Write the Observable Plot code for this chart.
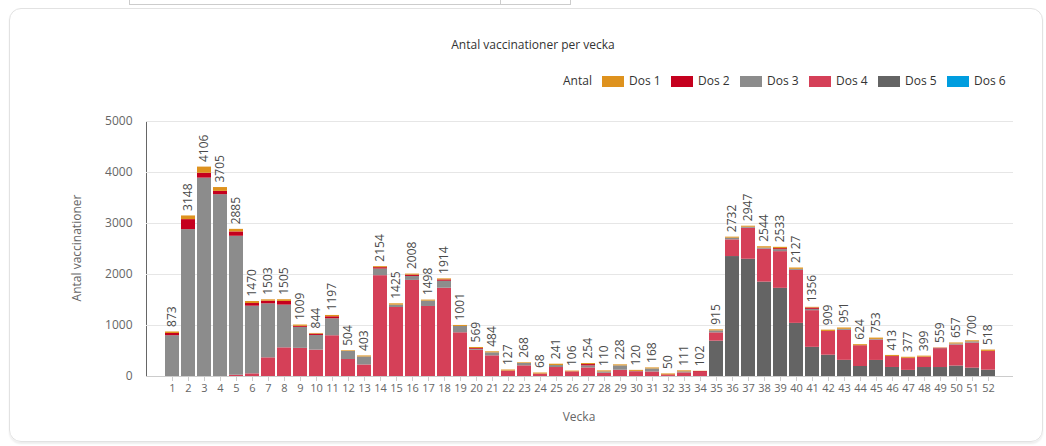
<!DOCTYPE html>
<html><head><meta charset="utf-8">
<script src="https://cdn.jsdelivr.net/npm/d3@7"></script>
<script src="https://cdn.jsdelivr.net/npm/@observablehq/plot@0.6"></script>
<style>
body{margin:0;background:#fff;font-family:"Open Sans",sans-serif;}
#wrap{position:relative;width:1046px;height:446px;overflow:hidden;}
#topbox{position:absolute;left:129px;top:-10px;width:440px;height:13px;border:1px solid #ccc;}
#topdiv{position:absolute;left:500px;top:-10px;width:0;height:14px;border-left:1px solid #ccc;}
#card{position:absolute;left:9px;top:8px;width:1032px;height:432px;border:1px solid #e2e2e2;border-radius:12px;box-shadow:0 2px 2px rgba(0,0,0,0.07);}
#title{position:absolute;left:0;width:1066px;top:36px;text-align:center;font-size:12px;color:#333;}
.lg{position:absolute;font-size:12px;color:#333;line-height:16px;}
.sw{position:absolute;width:22px;height:11px;}
#ytitle{position:absolute;left:76px;top:248px;transform:translate(-50%,-50%) rotate(-90deg);font-size:12px;color:#666;white-space:nowrap;}
#xtitle{position:absolute;left:579px;top:416px;transform:translate(-50%,-50%);font-size:12px;color:#666;}
#chart{position:absolute;left:0;top:100px;}
#chart svg g[aria-label^="y-axis"] path, #chart svg g[aria-label^="y-axis"] line{stroke:#ccc;}
#chart svg g[aria-label^="x-axis"] path, #chart svg g[aria-label^="x-axis"] line{stroke:#ccc;}
</style>
</head><body>
<div id="wrap">
  <div id="topbox"></div><div id="topdiv"></div>
  <div id="card"></div>
  <div id="title">Antal vaccinationer per vecka</div>
  <div id="legend"></div>
  <div id="ytitle">Antal vaccinationer</div>
  <div id="xtitle">Vecka</div>
  <div id="chart"></div>
</div>
<script>
const weeks = d3.range(1, 53);
const doses = ["Dos 1", "Dos 2", "Dos 3", "Dos 4", "Dos 5", "Dos 6"];
const colors = ["#de921e", "#c5001e", "#8c8c8c", "#d54058", "#646464", "#009ddf"];
const yTicks = [0, 1000, 2000, 3000, 4000, 5000];

const dos1 = [30,72,121,75,50,39,26,33,25,13,26,13,20,20,26,20,20,20,20,20,20,20,13,20,26,14,20,20,20,20,20,20,20,5,20,20,20,26,26,26,13,26,26,20,26,20,20,20,5,20,20,26];
const dos2 = [43,196,95,65,85,52,52,72,20,26,39,0,0,26,0,26,0,26,0,15,0,0,0,0,0,0,26,0,0,0,0,13,0,15,0,0,0,0,20,0,26,0,0,0,0,13,15,0,15,0,0,0];
const dos3 = [800,2880,3890,3565,2725,1327,1059,838,412,288,333,158,157,131,46,78,105,137,124,20,59,0,46,0,39,0,39,26,85,6,59,0,20,0,39,33,20,20,39,20,26,0,20,0,13,0,0,0,10,20,26,0];
const dos4 = [0,0,0,0,25,52,366,562,552,517,799,333,226,1977,1353,1884,1373,1731,857,514,405,107,209,48,176,92,169,64,123,94,89,17,71,82,163,327,608,647,719,1039,719,465,588,408,399,203,222,203,353,412,490,368];
const dos5 = [0,0,0,0,0,0,0,0,0,0,0,0,0,0,0,0,0,0,0,0,0,0,0,0,0,0,0,0,0,0,0,0,0,0,693,2352,2299,1851,1729,1042,572,418,317,196,315,177,120,176,176,205,164,124];
const dos6 = weeks.map(() => 0);

const series = {"Dos 1": dos1, "Dos 2": dos2, "Dos 3": dos3, "Dos 4": dos4, "Dos 5": dos5, "Dos 6": dos6};
const stackOrder = ["Dos 6", "Dos 5", "Dos 4", "Dos 3", "Dos 2", "Dos 1"];
const long = [];
weeks.forEach((w, i) => stackOrder.forEach(d => long.push({week: w, dose: d, value: series[d][i]})));
const totals = weeks.map((w, i) => ({week: w, total: doses.reduce((s, d) => s + series[d][i], 0)}));

// legend
const legend = document.getElementById("legend");
const lab = document.createElement("div");
lab.className = "lg"; lab.style.left = "563px"; lab.style.top = "73px"; lab.textContent = "Antal";
legend.appendChild(lab);
doses.forEach((d, i) => {
  const sw = document.createElement("div");
  sw.className = "sw"; sw.style.left = (602 + i * 69) + "px"; sw.style.top = "76px"; sw.style.background = colors[i];
  const t = document.createElement("div");
  t.className = "lg"; t.style.left = (629 + i * 69) + "px"; t.style.top = "73px"; t.textContent = d;
  legend.appendChild(sw); legend.appendChild(t);
});

const chart = Plot.plot({
  width: 1046, height: 330,
  marginTop: 21, marginBottom: 54, marginLeft: 146, marginRight: 33,
  style: {fontFamily: "Open Sans, sans-serif", fontSize: "12px", color: "#666", background: "transparent", overflow: "visible"},
  x: {type: "band", domain: weeks, paddingInner: 0.15, paddingOuter: 0.5, label: null, tickSize: 5, tickPadding: 3},
  y: {domain: [0, 5000], ticks: yTicks, tickFormat: d => String(d), label: null, tickSize: 0, tickPadding: 14, line: true},
  color: {domain: doses, range: colors},
  marks: [
    Plot.ruleY(yTicks.slice(1), {stroke: "#e6e6e6"}),
    Plot.barY(long, {x: "week", y: "value", fill: "dose", order: null}),
    Plot.ruleY([0], {stroke: "#ccc"}),
    Plot.text(totals, {x: "week", y: "total", text: d => String(d.total), rotate: -90, textAnchor: "start", dy: -5, fill: "#4a4a4a", fontSize: 12})
  ]
});
chart.querySelectorAll('g[aria-label^="x-axis"]').forEach(g => g.style.fontSize = "11px");
document.getElementById("chart").appendChild(chart);
</script>
</body></html>
